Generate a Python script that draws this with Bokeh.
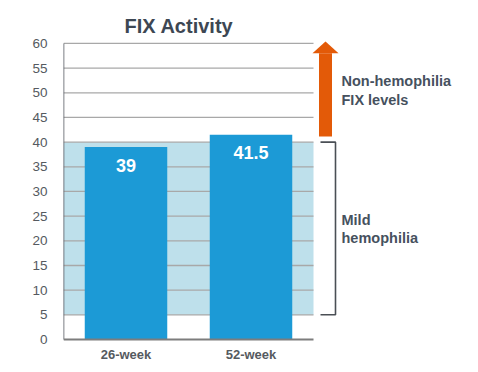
from bokeh.plotting import figure
from bokeh.models import Range1d, FixedTicker
from bokeh.core.properties import value
from bokeh.embed import file_html
from bokeh.resources import INLINE

# ---- data ----
categories = ["26-week", "52-week"]
fix_activity = [39, 41.5]
y_ticks = list(range(0, 65, 5))
mild_low, mild_high = 5, 40
nonhemo_low, nonhemo_high = 40, 60
top_note = ["Non-hemophilia", "FIX levels"]
bottom_note = ["Mild", "hemophilia"]

FONT = "Liberation Sans"
TXT = "#46515e"
LBL = "#555a60"
BAR = "#1c9ad6"
BAND = "#bee0eb"
GRID = "#a8a8a8"
ORANGE = "#e35a08"

n = len(categories)
x_pos = [i + 0.5 for i in range(n)]

p = figure(width=470, height=364, output_backend="svg", toolbar_location=None,
           x_range=Range1d(0, 3.256), y_range=Range1d(-5.07, 60.6),
           min_border_left=63, min_border_right=0, min_border_top=40,
           min_border_bottom=0)
p.outline_line_color = None
p.xgrid.visible = False
p.ygrid.visible = False
p.xaxis.visible = False

p.title.text = "FIX Activity"
p.title.text_font = FONT
p.title.text_font_size = "20px"
p.title.text_font_style = "bold"
p.title.text_color = "#3d4753"
p.title.align = "left"
p.title.offset = 61
p.title.standoff = 8

# band of mild hemophilia
p.quad(left=0, right=n, bottom=mild_low, top=mild_high, fill_color=BAND, line_color=None)
# grid lines
gy = y_ticks[1:]
p.segment(x0=[0] * len(gy), x1=[n] * len(gy), y0=gy, y1=gy, line_color=GRID, line_width=1.3)
# bars
p.vbar(x=x_pos, top=fix_activity, width=0.66, fill_color=BAR, line_color=None)
p.text(x=x_pos, y=fix_activity, text=[f"{v:g}" for v in fix_activity],
       text_font=value(FONT), text_font_size="18px", text_font_style="bold",
       text_color="white", text_align="center", text_baseline="middle", y_offset=18)
# axis lines
p.segment(x0=[0], x1=[0], y0=[0], y1=[y_ticks[-1]], line_color="#5a5f66", line_width=1.6)
p.segment(x0=[0], x1=[n], y0=[0], y1=[0], line_color="#7d7d7d", line_width=2)

# category labels below the baseline
p.text(x=x_pos, y=[0] * n, text=categories, text_font=value(FONT), text_font_size="13px",
       text_font_style="bold", text_color=LBL, text_align="center", text_baseline="middle",
       y_offset=15.5)

# orange arrow (non-hemophilia levels)
ax_c = n + 0.096
p.quad(left=ax_c - 0.052, right=ax_c + 0.052, bottom=nonhemo_low + 1.15, top=nonhemo_high - 2.0,
       fill_color=ORANGE, line_color=None)
p.patch(x=[ax_c - 0.104, ax_c + 0.104, ax_c], y=[nonhemo_high - 2.0, nonhemo_high - 2.0, nonhemo_high + 0.4],
        fill_color=ORANGE, line_color=None)

# bracket (mild hemophilia)
bx = n + 0.176
p.line(x=[bx - 0.12, bx, bx, bx - 0.12], y=[mild_high, mild_high, mild_low, mild_low],
       line_color="#4a4f55", line_width=1.6)

tx = n + 0.224
p.text(x=[tx, tx], y=[52.3, 48.5], text=top_note, text_font=value(FONT), text_font_size="14.5px",
       text_font_style="bold", text_color=TXT, text_align="left", text_baseline="middle")
p.text(x=[tx, tx], y=[24.2, 20.5], text=bottom_note, text_font=value(FONT), text_font_size="14.5px",
       text_font_style="bold", text_color=TXT, text_align="left", text_baseline="middle")

# y axis
ya = p.yaxis[0]
ya.ticker = FixedTicker(ticks=y_ticks)
ya.axis_line_color = None
ya.major_tick_line_color = None
ya.minor_tick_line_color = None
ya.major_label_text_font = FONT
ya.major_label_text_font_size = "13.5px"
ya.major_label_text_color = LBL
ya.major_label_standoff = 10

open("out.html", "w").write(file_html(p, INLINE))
